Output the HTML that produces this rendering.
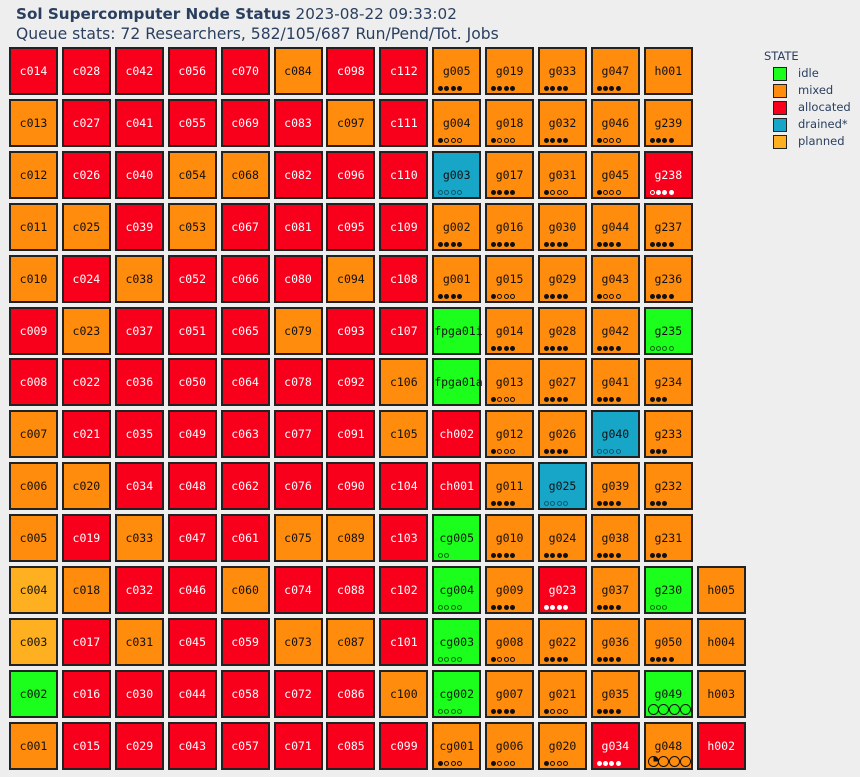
<!DOCTYPE html>
<html><head><meta charset="utf-8">
<style>
body{margin:0;background:#eeeeee;width:860px;height:777px;overflow:hidden;position:relative;font-family:"DejaVu Sans","Liberation Sans",sans-serif;}
#title{position:absolute;left:16px;top:5px;font-size:15.2px;color:#2a3f5f;white-space:nowrap;}
#sub{position:absolute;left:16px;top:25px;font-size:15.6px;color:#2a3f5f;white-space:nowrap;}
.cell{position:absolute;box-sizing:border-box;border:2px solid #222;width:49px;height:48px;}
.lbl{position:absolute;left:0;right:0;top:15px;text-align:center;font-family:"DejaVu Sans Mono","Liberation Mono",monospace;font-size:11.5px;}
.dot{position:absolute;border-radius:50%;box-sizing:border-box;}
#legend{position:absolute;left:764px;top:49px;font-size:11.5px;color:#2a3f5f;}
.li{position:absolute;left:9px;height:14px;white-space:nowrap;}
.sw{position:absolute;left:0;top:0;width:12px;height:12px;border:1.5px solid #222;}
.lt{position:absolute;left:25px;top:-1px;}
</style></head><body>
<div id="title"><b>Sol Supercomputer Node Status</b> 2023-08-22 09:33:02</div>
<div id="sub">Queue stats: 72 Researchers, 582/105/687 Run/Pend/Tot. Jobs</div>
<div id="grid"></div>
<div id="legend">
<div style="position:absolute;left:0;top:0;">STATE</div>
</div>
<script>
const states = {I:'#1cff1c',M:'#ff8c0c',A:'#f8001c',D:'#17a6c8',P:'#ffb020'};
const stateNames = ['idle','mixed','allocated','drained*','planned'];
const stateKeys = ['I','M','A','D','P'];
const col0 = ['c014','c013','c012','c011','c010','c009','c008','c007','c006','c005','c004','c003','c002','c001'];
const st0 = 'AMMMMAAMMMPPIM';
const col1 = ['c028','c027','c026','c025','c024','c023','c022','c021','c020','c019','c018','c017','c016','c015'];
const st1 = 'AAAMAMAAMAMAAA';
const col2 = ['c042','c041','c040','c039','c038','c037','c036','c035','c034','c033','c032','c031','c030','c029'];
const st2 = 'AAAAMAAAAMAMAA';
const col3 = ['c056','c055','c054','c053','c052','c051','c050','c049','c048','c047','c046','c045','c044','c043'];
const st3 = 'AAMMAAAAAAAAAA';
const col4 = ['c070','c069','c068','c067','c066','c065','c064','c063','c062','c061','c060','c059','c058','c057'];
const st4 = 'AAMAAAAAAAMAAA';
const col5 = ['c084','c083','c082','c081','c080','c079','c078','c077','c076','c075','c074','c073','c072','c071'];
const st5 = 'MAAAAMAAAMAMAA';
const col6 = ['c098','c097','c096','c095','c094','c093','c092','c091','c090','c089','c088','c087','c086','c085'];
const st6 = 'AMAAMAAAAMAMAA';
const col7 = ['c112','c111','c110','c109','c108','c107','c106','c105','c104','c103','c102','c101','c100','c099'];
const st7 = 'AAAAAAMMAAAAMA';
const col8 = ['g005','g004','g003','g002','g001','fpga01i','fpga01a','ch002','ch001','cg005','cg004','cg003','cg002','cg001'];
const st8 = 'MMDMMIIAAIIIIM';
const gpu8 = ['FFFF','Fooo','oooo','FFFF','FFFF','','','','','oo','oooo','oooo','oooo','Fooo'];
const col9 = ['g019','g018','g017','g016','g015','g014','g013','g012','g011','g010','g009','g008','g007','g006'];
const st9 = 'MMMMMMMMMMMMMM';
const gpu9 = ['FFFF','Fooo','FFFF','FFFF','Fooo','FFFF','Fooo','Fooo','FFFF','FFFF','FFFF','Fooo','FFFF','Fooo'];
const col10 = ['g033','g032','g031','g030','g029','g028','g027','g026','g025','g024','g023','g022','g021','g020'];
const st10 = 'MMMMMMMMDMAMMM';
const gpu10 = ['FFFF','FFFF','Fooo','FFFF','FFFF','FFFF','FFFF','FFFF','oooo','FFFF','FFFF','FFFF','Fooo','Fooo'];
const col11 = ['g047','g046','g045','g044','g043','g042','g041','g040','g039','g038','g037','g036','g035','g034'];
const st11 = 'MMMMMMMDMMMMMA';
const gpu11 = ['FFFF','Fooo','Fooo','FFFF','Fooo','FFFF','FFFF','oooo','FFFF','FFFF','FFFF','FFFF','FFFF','FFFF'];
const col12 = ['h001','g239','g238','g237','g236','g235','g234','g233','g232','g231','g230','g050','g049','g048'];
const st12 = 'MMAMMIMMMMIMIM';
const gpu12 = ['','FFFF','oFFF','FFFF','FFFF','oooo','FFF','FFF','FFF','FFF','ooo','FFFF','LOOOO','LQOOO'];
const col13 = ['','','','','','','','','','','h005','h004','h003','h002'];
const st13 = '          MMMA';

const names=[col0,col1,col2,col3,col4,col5,col6,col7,col8,col9,col10,col11,col12,col13];
const sts=[st0,st1,st2,st3,st4,st5,st6,st7,st8,st9,st10,st11,st12,st13];
const gpus={8:gpu8,9:gpu9,10:gpu10,11:gpu11,12:gpu12};
const X0=9,DX=52.9,Y0=47,DY=51.9;
const grid=document.getElementById('grid');
names.forEach((col,ci)=>{
  col.forEach((nm,ri)=>{
    if(!nm) return;
    const s=sts[ci][ri];
    const c=document.createElement('div');
    c.className='cell';
    
    
    c.style.left=(X0+ci*DX)+'px';
    c.style.top=(Y0+ri*DY)+'px';
    c.style.background=states[s];
    const light=(s==='A');
    const l=document.createElement('div');
    l.className='lbl';
    
    
    l.textContent=nm;
    l.style.color=light?'#fff':'#111';
    c.appendChild(l);
    const g=gpus[ci]?gpus[ci][ri]:'';
    if(g){
      const big=g[0]==='L';
      const chars=big?g.slice(1):g;
      const col=light?'#fff':'#111';
      for(let k=0;k<chars.length;k++){
        const d=document.createElement('div');
        d.className='dot';
        
        
        const ch=chars[k];
        if(big){
          d.style.width='11px';d.style.height='11px';
          d.style.left=(2+k*10.7)+'px';d.style.top='32px';
          d.style.border='1.5px solid #111';
          if(ch==='Q') d.style.background='conic-gradient(#111 0 25%,transparent 25%)';
        } else {
          d.style.width='5px';d.style.height='5px';
          d.style.left=(4+k*6.3)+'px';d.style.top='37px';
          if(ch==='F') d.style.background=col;
          else d.style.border='1px solid '+(s==='I'?'#0a6a0a':(s==='D'?'#0b5a70':col));
        }
        c.appendChild(d);
      }
    }
    grid.appendChild(c);
  });
});
const lg=document.getElementById('legend');
stateKeys.forEach((k,i)=>{
  const it=document.createElement('div');
  it.className='li';
  
  
  it.style.top=(18+i*17)+'px';
  it.innerHTML='<div class="sw" style="background:'+states[k]+'"></div><div class="lt">'+stateNames[i]+'</div>';
  lg.appendChild(it);
});
</script>
</body></html>
